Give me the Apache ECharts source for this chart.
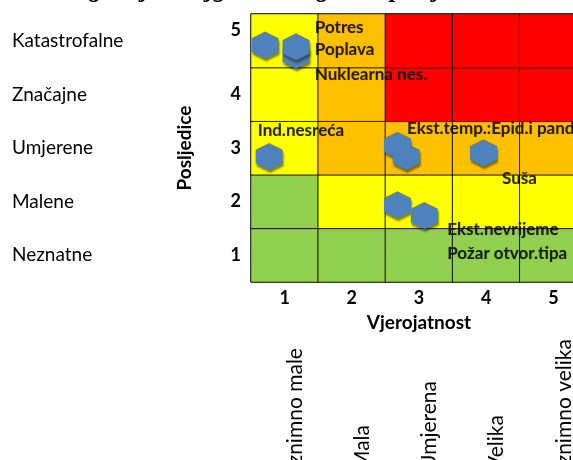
<!DOCTYPE html>
<html>
<head>
<meta charset="utf-8">
<script src="https://cdn.jsdelivr.net/npm/echarts@6/dist/echarts.min.js"></script>
<style>html,body{margin:0;padding:0;background:#fff;}#c{width:573px;height:460px;}</style>
</head>
<body>
<div id="c"></div>
<script>
// ---- data ----
const titleText = 'Događaji s najgorim mogućim posljedicama';
const levels = ['1', '2', '3', '4', '5'];
const consequenceNames = ['Neznatne', 'Malene', 'Umjerene', 'Značajne', 'Katastrofalne'];
const probabilityNames = ['Iznimno male', 'Mala', 'Umjerena', 'Velika', 'Iznimno velika'];
// zone per consequence level (rows 1..5), per probability (cols 1..5): 1 green, 2 yellow, 3 orange, 4 red
const zoneRows = [
  [1, 1, 1, 1, 1],
  [1, 2, 2, 2, 2],
  [2, 3, 3, 3, 3],
  [2, 3, 4, 4, 4],
  [2, 3, 4, 4, 4]
];
const riskX = [0.71, 1.17, 1.17, 0.77, 2.68, 2.81, 3.96, 2.68, 3.08];
const riskY = [4.92, 4.735, 4.89, 2.84, 3.05, 2.84, 2.91, 1.94, 1.74];
const labelNames = ['Potres', 'Poplava', 'Nuklearna nes.', 'Ind.nesreća', 'Ekst.temp.:Epid.i pandemije', 'Suša', 'Ekst.nevrijeme', 'Požar otvor.tipa'];
const labelX = [1.45, 1.45, 1.45, 0.60, 2.82, 4.235, 3.42, 3.42];
const labelY = [5.24, 4.83, 4.38, 3.32, 3.37, 2.44, 1.47, 1.04];

// ---- build ----
const heatData = [];
zoneRows.forEach((row, yi) => row.forEach((v, xi) => heatData.push([xi, yi, v])));
const pointData = riskX.map((x, i) => [x, riskY[i]]);
const labelData = labelNames.map((n, i) => ({ value: [labelX[i], labelY[i]], name: n }));

const FONT = 'Lato';
const hex = 'path://M0,-1 L0.866,-0.5 L0.866,0.5 L0,1 L-0.866,0.5 L-0.866,-0.5 Z';

const chart = echarts.init(document.getElementById('c'), null, { renderer: 'canvas' });
chart.setOption({
  animation: false,
  backgroundColor: '#ffffff',
  textStyle: { fontFamily: FONT },
  graphic: [{
    type: 'text', x: 58, y: 3, silent: true, z: 100,
    style: { text: titleText, font: 'italic bold 26px "Liberation Serif"', fill: '#000',
      align: 'left', verticalAlign: 'bottom' }
  }],
  grid: { left: 251, width: 336, top: 14, height: 268, show: true, borderColor: '#777', borderWidth: 1,
    containLabel: false, outerBoundsMode: 'none' },
  visualMap: {
    show: false, type: 'piecewise', seriesIndex: 0, dimension: 2,
    pieces: [
      { value: 1, color: '#92D050' },
      { value: 2, color: '#FFFF00' },
      { value: 3, color: '#FFC000' },
      { value: 4, color: '#FF0000' }
    ]
  },
  xAxis: [
    { type: 'value', min: 0.5, max: 5.5, interval: 1, show: true,
      axisLine: { show: false }, axisTick: { show: false }, axisLabel: { show: false }, splitLine: { show: false } },
    { type: 'category', data: levels, position: 'bottom', boundaryGap: true,
      axisLine: { show: false }, axisTick: { show: false },
      axisLabel: { margin: 7, fontSize: 18, fontWeight: 'bold', color: '#000', fontFamily: FONT },
      name: 'Vjerojatnost', nameLocation: 'middle', nameGap: 31,
      nameTextStyle: { fontSize: 19, fontWeight: 'bold', color: '#000', fontFamily: FONT } },
    { type: 'category', data: probabilityNames, position: 'bottom', offset: 180, boundaryGap: true,
      axisLine: { show: false }, axisTick: { show: false },
      axisLabel: { interval: 0, rotate: 90, align: 'left', verticalAlign: 'top', margin: 8,
        fontSize: 21, color: '#000', fontFamily: FONT } }
  ],
  yAxis: [
    { type: 'value', min: 0.5, max: 5.5, interval: 1, show: true,
      axisLine: { show: false }, axisTick: { show: false }, axisLabel: { show: false }, splitLine: { show: false } },
    { type: 'category', data: levels, position: 'left', boundaryGap: true,
      axisLine: { show: false }, axisTick: { show: false },
      axisLabel: { margin: 10, fontSize: 18, fontWeight: 'bold', color: '#000', fontFamily: FONT,
        formatter: v => v === '5' ? '{up|5}' : v,
        rich: { up: { fontSize: 18, fontWeight: 'bold', color: '#000', fontFamily: FONT, padding: [0, 0, 22, 0] } } },
      name: 'Posljedice', nameLocation: 'middle', nameGap: 57,
      nameTextStyle: { fontSize: 19, fontWeight: 'bold', color: '#000', fontFamily: FONT } },
    { type: 'category', data: consequenceNames, position: 'left', boundaryGap: true,
      axisLine: { show: false }, axisTick: { show: false },
      axisLabel: { interval: 0, align: 'left', margin: 239, fontSize: 19, color: '#000', fontFamily: FONT } }
  ],
  series: [
    { type: 'heatmap', xAxisIndex: 1, yAxisIndex: 1, data: heatData, silent: true,
      itemStyle: { borderColor: '#111', borderWidth: 1 }, z: 1 },
    { type: 'scatter', xAxisIndex: 0, yAxisIndex: 0, data: pointData, symbol: hex, symbolSize: [27, 27],
      itemStyle: { color: '#4F81BD', opacity: 1, shadowColor: 'rgba(40,40,0,0.55)', shadowBlur: 2, shadowOffsetX: 1, shadowOffsetY: 3 },
      z: 3, silent: true },
    { type: 'scatter', xAxisIndex: 0, yAxisIndex: 0, data: labelData, symbolSize: 0, z: 4, silent: true,
      label: { show: true, position: 'right', distance: 0, formatter: p => p.name,
        fontSize: 17, fontWeight: 'bold', color: '#000', fontFamily: FONT,
        textShadowColor: 'rgba(0,0,0,0.35)', textShadowBlur: 1 } }
  ]
});
</script>
</body>
</html>
